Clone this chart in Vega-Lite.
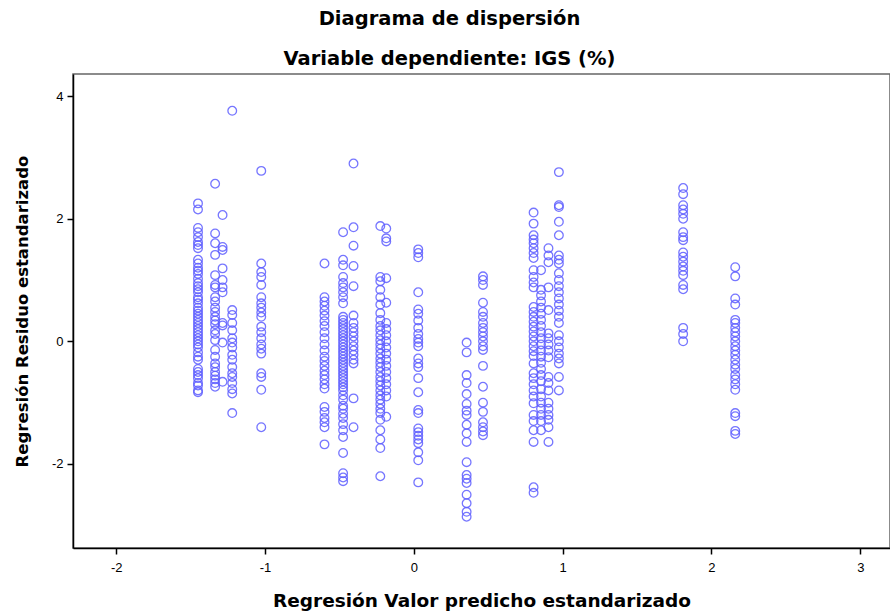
{
  "$schema": "https://vega.github.io/schema/vega-lite/v6.json",
  "width": 817,
  "height": 474,
  "autosize": {"type": "none"},
  "padding": {"left": 73, "top": 74, "right": 0, "bottom": 63},
  "background": "white",
  "title": {
    "text": ["Diagrama de dispersión", "Variable dependiente: IGS (%)"],
    "font": "DejaVu Sans",
    "fontSize": 19.5,
    "fontWeight": "bold",
    "color": "#000000",
    "lineHeight": 40,
    "anchor": "middle",
    "dx": -32,
    "offset": 5
  },
  "config": {
    "view": {"stroke": "#666666", "strokeWidth": 1.5},
    "axis": {
      "grid": false,
      "domainColor": "#000000",
      "domainWidth": 1.5,
      "tickColor": "#000000",
      "tickWidth": 1.5,
      "tickSize": 6,
      "labelFont": "Liberation Sans",
      "labelFontSize": 13,
      "labelColor": "#000000",
      "labelExpr": "'' + datum.value",
      "titleFont": "DejaVu Sans",
      "titleFontWeight": "bold",
      "titleColor": "#000000"
    }
  },
  "data": {
    "values": [
      {"pred": -1.45, "resid": 2.25}, {"pred": -1.45, "resid": 2.15}, {"pred": -1.45, "resid": 1.85}, {"pred": -1.45, "resid": 1.78},
      {"pred": -1.45, "resid": 1.7}, {"pred": -1.45, "resid": 1.62}, {"pred": -1.45, "resid": 1.57}, {"pred": -1.45, "resid": 1.52},
      {"pred": -1.45, "resid": 1.33}, {"pred": -1.45, "resid": 1.27}, {"pred": -1.45, "resid": 1.2}, {"pred": -1.45, "resid": 1.15},
      {"pred": -1.45, "resid": 1.1}, {"pred": -1.45, "resid": 1.02}, {"pred": -1.45, "resid": 0.95}, {"pred": -1.45, "resid": 0.9},
      {"pred": -1.45, "resid": 0.85}, {"pred": -1.45, "resid": 0.8}, {"pred": -1.45, "resid": 0.72}, {"pred": -1.45, "resid": 0.68},
      {"pred": -1.45, "resid": 0.62}, {"pred": -1.45, "resid": 0.55}, {"pred": -1.45, "resid": 0.5}, {"pred": -1.45, "resid": 0.45},
      {"pred": -1.45, "resid": 0.4}, {"pred": -1.45, "resid": 0.35}, {"pred": -1.45, "resid": 0.3}, {"pred": -1.45, "resid": 0.25},
      {"pred": -1.45, "resid": 0.2}, {"pred": -1.45, "resid": 0.15}, {"pred": -1.45, "resid": 0.1}, {"pred": -1.45, "resid": 0.05},
      {"pred": -1.45, "resid": 0.0}, {"pred": -1.45, "resid": -0.05}, {"pred": -1.45, "resid": -0.1}, {"pred": -1.45, "resid": -0.18},
      {"pred": -1.45, "resid": -0.25}, {"pred": -1.45, "resid": -0.3}, {"pred": -1.45, "resid": -0.45}, {"pred": -1.45, "resid": -0.5},
      {"pred": -1.45, "resid": -0.55}, {"pred": -1.45, "resid": -0.6}, {"pred": -1.45, "resid": -0.68}, {"pred": -1.45, "resid": -0.72},
      {"pred": -1.45, "resid": -0.8}, {"pred": -1.45, "resid": -0.83},

      {"pred": -1.335, "resid": 2.57}, {"pred": -1.335, "resid": 1.76}, {"pred": -1.335, "resid": 1.6}, {"pred": -1.335, "resid": 1.41},
      {"pred": -1.335, "resid": 1.08}, {"pred": -1.335, "resid": 0.92}, {"pred": -1.335, "resid": 0.88}, {"pred": -1.335, "resid": 0.72},
      {"pred": -1.335, "resid": 0.65}, {"pred": -1.335, "resid": 0.55}, {"pred": -1.335, "resid": 0.48}, {"pred": -1.335, "resid": 0.4},
      {"pred": -1.335, "resid": 0.34}, {"pred": -1.335, "resid": 0.28}, {"pred": -1.335, "resid": 0.18}, {"pred": -1.335, "resid": 0.12},
      {"pred": -1.335, "resid": 0.02}, {"pred": -1.335, "resid": -0.14}, {"pred": -1.335, "resid": -0.25}, {"pred": -1.335, "resid": -0.36},
      {"pred": -1.335, "resid": -0.42}, {"pred": -1.335, "resid": -0.5}, {"pred": -1.335, "resid": -0.56}, {"pred": -1.335, "resid": -0.62},
      {"pred": -1.335, "resid": -0.68}, {"pred": -1.335, "resid": -0.74},

      {"pred": -1.285, "resid": 2.06}, {"pred": -1.285, "resid": 1.54}, {"pred": -1.285, "resid": 1.49}, {"pred": -1.285, "resid": 1.19},
      {"pred": -1.285, "resid": 1.0}, {"pred": -1.285, "resid": 0.88}, {"pred": -1.285, "resid": 0.8}, {"pred": -1.285, "resid": 0.3},
      {"pred": -1.285, "resid": 0.26}, {"pred": -1.285, "resid": -0.02}, {"pred": -1.285, "resid": -0.66},

      {"pred": -1.22, "resid": 3.76}, {"pred": -1.22, "resid": 0.51}, {"pred": -1.22, "resid": 0.43}, {"pred": -1.22, "resid": 0.3},
      {"pred": -1.22, "resid": 0.18}, {"pred": -1.22, "resid": 0.05}, {"pred": -1.22, "resid": -0.02}, {"pred": -1.22, "resid": -0.1},
      {"pred": -1.22, "resid": -0.22}, {"pred": -1.22, "resid": -0.3}, {"pred": -1.22, "resid": -0.42}, {"pred": -1.22, "resid": -0.52},
      {"pred": -1.22, "resid": -0.58}, {"pred": -1.22, "resid": -0.68}, {"pred": -1.22, "resid": -0.78}, {"pred": -1.22, "resid": -0.85},
      {"pred": -1.22, "resid": -1.17},

      {"pred": -1.025, "resid": 2.78}, {"pred": -1.025, "resid": 1.27}, {"pred": -1.025, "resid": 1.13}, {"pred": -1.025, "resid": 1.05},
      {"pred": -1.025, "resid": 0.92}, {"pred": -1.025, "resid": 0.72}, {"pred": -1.025, "resid": 0.62}, {"pred": -1.025, "resid": 0.55},
      {"pred": -1.025, "resid": 0.47}, {"pred": -1.025, "resid": 0.4}, {"pred": -1.025, "resid": 0.24}, {"pred": -1.025, "resid": 0.15},
      {"pred": -1.025, "resid": 0.05}, {"pred": -1.025, "resid": -0.05}, {"pred": -1.025, "resid": -0.12}, {"pred": -1.025, "resid": -0.2},
      {"pred": -1.025, "resid": -0.52}, {"pred": -1.025, "resid": -0.58}, {"pred": -1.025, "resid": -0.79}, {"pred": -1.025, "resid": -1.4},

      {"pred": -0.6, "resid": 1.27}, {"pred": -0.6, "resid": 0.72}, {"pred": -0.6, "resid": 0.65}, {"pred": -0.6, "resid": 0.58},
      {"pred": -0.6, "resid": 0.5}, {"pred": -0.6, "resid": 0.42}, {"pred": -0.6, "resid": 0.33}, {"pred": -0.6, "resid": 0.25},
      {"pred": -0.6, "resid": 0.15}, {"pred": -0.6, "resid": 0.05}, {"pred": -0.6, "resid": -0.05}, {"pred": -0.6, "resid": -0.15},
      {"pred": -0.6, "resid": -0.25}, {"pred": -0.6, "resid": -0.32}, {"pred": -0.6, "resid": -0.4}, {"pred": -0.6, "resid": -0.48},
      {"pred": -0.6, "resid": -0.55}, {"pred": -0.6, "resid": -0.62}, {"pred": -0.6, "resid": -0.7}, {"pred": -0.6, "resid": -0.77},
      {"pred": -0.6, "resid": -1.07}, {"pred": -0.6, "resid": -1.15}, {"pred": -0.6, "resid": -1.25}, {"pred": -0.6, "resid": -1.32},
      {"pred": -0.6, "resid": -1.4}, {"pred": -0.6, "resid": -1.68},

      {"pred": -0.475, "resid": 1.78}, {"pred": -0.475, "resid": 1.33}, {"pred": -0.475, "resid": 1.24}, {"pred": -0.475, "resid": 1.05},
      {"pred": -0.475, "resid": 0.95}, {"pred": -0.475, "resid": 0.88}, {"pred": -0.475, "resid": 0.8}, {"pred": -0.475, "resid": 0.72},
      {"pred": -0.475, "resid": 0.62}, {"pred": -0.475, "resid": 0.4}, {"pred": -0.475, "resid": 0.35}, {"pred": -0.475, "resid": 0.3},
      {"pred": -0.475, "resid": 0.25}, {"pred": -0.475, "resid": 0.2}, {"pred": -0.475, "resid": 0.15}, {"pred": -0.475, "resid": 0.1},
      {"pred": -0.475, "resid": 0.05}, {"pred": -0.475, "resid": 0.0}, {"pred": -0.475, "resid": -0.05}, {"pred": -0.475, "resid": -0.1},
      {"pred": -0.475, "resid": -0.15}, {"pred": -0.475, "resid": -0.2}, {"pred": -0.475, "resid": -0.25}, {"pred": -0.475, "resid": -0.3},
      {"pred": -0.475, "resid": -0.35}, {"pred": -0.475, "resid": -0.4}, {"pred": -0.475, "resid": -0.45}, {"pred": -0.475, "resid": -0.5},
      {"pred": -0.475, "resid": -0.55}, {"pred": -0.475, "resid": -0.6}, {"pred": -0.475, "resid": -0.65}, {"pred": -0.475, "resid": -0.7},
      {"pred": -0.475, "resid": -0.75}, {"pred": -0.475, "resid": -0.8}, {"pred": -0.475, "resid": -0.88}, {"pred": -0.475, "resid": -0.95},
      {"pred": -0.475, "resid": -1.05}, {"pred": -0.475, "resid": -1.1}, {"pred": -0.475, "resid": -1.18}, {"pred": -0.475, "resid": -1.25},
      {"pred": -0.475, "resid": -1.35}, {"pred": -0.475, "resid": -1.45}, {"pred": -0.475, "resid": -1.56}, {"pred": -0.475, "resid": -1.82},
      {"pred": -0.475, "resid": -2.15}, {"pred": -0.475, "resid": -2.22}, {"pred": -0.475, "resid": -2.28},

      {"pred": -0.405, "resid": 2.9}, {"pred": -0.405, "resid": 1.86}, {"pred": -0.405, "resid": 1.56}, {"pred": -0.405, "resid": 1.23},
      {"pred": -0.405, "resid": 0.9}, {"pred": -0.405, "resid": 0.42}, {"pred": -0.405, "resid": 0.3}, {"pred": -0.405, "resid": 0.22},
      {"pred": -0.405, "resid": 0.15}, {"pred": -0.405, "resid": 0.08}, {"pred": -0.405, "resid": 0.0}, {"pred": -0.405, "resid": -0.08},
      {"pred": -0.405, "resid": -0.15}, {"pred": -0.405, "resid": -0.22}, {"pred": -0.405, "resid": -0.3}, {"pred": -0.405, "resid": -0.36},
      {"pred": -0.405, "resid": -0.93}, {"pred": -0.405, "resid": -1.4},

      {"pred": -0.225, "resid": 1.88}, {"pred": -0.225, "resid": 1.05}, {"pred": -0.225, "resid": 0.98}, {"pred": -0.225, "resid": 0.84},
      {"pred": -0.225, "resid": 0.72}, {"pred": -0.225, "resid": 0.6}, {"pred": -0.225, "resid": 0.46}, {"pred": -0.225, "resid": 0.35},
      {"pred": -0.225, "resid": 0.25}, {"pred": -0.225, "resid": 0.18}, {"pred": -0.225, "resid": 0.1}, {"pred": -0.225, "resid": 0.02},
      {"pred": -0.225, "resid": -0.05}, {"pred": -0.225, "resid": -0.12}, {"pred": -0.225, "resid": -0.2}, {"pred": -0.225, "resid": -0.28},
      {"pred": -0.225, "resid": -0.35}, {"pred": -0.225, "resid": -0.42}, {"pred": -0.225, "resid": -0.5}, {"pred": -0.225, "resid": -0.58},
      {"pred": -0.225, "resid": -0.65}, {"pred": -0.225, "resid": -0.72}, {"pred": -0.225, "resid": -0.8}, {"pred": -0.225, "resid": -0.88},
      {"pred": -0.225, "resid": -0.95}, {"pred": -0.225, "resid": -1.02}, {"pred": -0.225, "resid": -1.1}, {"pred": -0.225, "resid": -1.17},
      {"pred": -0.225, "resid": -1.28}, {"pred": -0.225, "resid": -1.45}, {"pred": -0.225, "resid": -1.6}, {"pred": -0.225, "resid": -1.74},
      {"pred": -0.225, "resid": -2.2},

      {"pred": -0.185, "resid": 1.84}, {"pred": -0.185, "resid": 1.68}, {"pred": -0.185, "resid": 1.63}, {"pred": -0.185, "resid": 1.03},
      {"pred": -0.185, "resid": 0.63}, {"pred": -0.185, "resid": 0.3}, {"pred": -0.185, "resid": 0.2}, {"pred": -0.185, "resid": 0.1},
      {"pred": -0.185, "resid": 0.0}, {"pred": -0.185, "resid": -0.1}, {"pred": -0.185, "resid": -0.2}, {"pred": -0.185, "resid": -0.3},
      {"pred": -0.185, "resid": -0.4}, {"pred": -0.185, "resid": -0.5}, {"pred": -0.185, "resid": -0.6}, {"pred": -0.185, "resid": -0.7},
      {"pred": -0.185, "resid": -0.8}, {"pred": -0.185, "resid": -0.9}, {"pred": -0.185, "resid": -1.23},

      {"pred": 0.03, "resid": 1.5}, {"pred": 0.03, "resid": 1.44}, {"pred": 0.03, "resid": 1.37}, {"pred": 0.03, "resid": 0.8},
      {"pred": 0.03, "resid": 0.52}, {"pred": 0.03, "resid": 0.45}, {"pred": 0.03, "resid": 0.34}, {"pred": 0.03, "resid": 0.22},
      {"pred": 0.03, "resid": 0.12}, {"pred": 0.03, "resid": 0.04}, {"pred": 0.03, "resid": -0.02}, {"pred": 0.03, "resid": -0.08},
      {"pred": 0.03, "resid": -0.28}, {"pred": 0.03, "resid": -0.36}, {"pred": 0.03, "resid": -0.42}, {"pred": 0.03, "resid": -0.6},
      {"pred": 0.03, "resid": -0.83}, {"pred": 0.03, "resid": -1.12}, {"pred": 0.03, "resid": -1.17}, {"pred": 0.03, "resid": -1.42},
      {"pred": 0.03, "resid": -1.48}, {"pred": 0.03, "resid": -1.54}, {"pred": 0.03, "resid": -1.6}, {"pred": 0.03, "resid": -1.66},
      {"pred": 0.03, "resid": -1.81}, {"pred": 0.03, "resid": -1.94}, {"pred": 0.03, "resid": -2.3},

      {"pred": 0.355, "resid": -0.02}, {"pred": 0.355, "resid": -0.18}, {"pred": 0.355, "resid": -0.55}, {"pred": 0.355, "resid": -0.68},
      {"pred": 0.355, "resid": -0.86}, {"pred": 0.355, "resid": -1.02}, {"pred": 0.355, "resid": -1.13}, {"pred": 0.355, "resid": -1.2},
      {"pred": 0.355, "resid": -1.36}, {"pred": 0.355, "resid": -1.5}, {"pred": 0.355, "resid": -1.64}, {"pred": 0.355, "resid": -1.97},
      {"pred": 0.355, "resid": -2.18}, {"pred": 0.355, "resid": -2.24}, {"pred": 0.355, "resid": -2.31}, {"pred": 0.355, "resid": -2.5},
      {"pred": 0.355, "resid": -2.64}, {"pred": 0.355, "resid": -2.78}, {"pred": 0.355, "resid": -2.86},

      {"pred": 0.465, "resid": 1.06}, {"pred": 0.465, "resid": 1.0}, {"pred": 0.465, "resid": 0.92}, {"pred": 0.465, "resid": 0.63},
      {"pred": 0.465, "resid": 0.48}, {"pred": 0.465, "resid": 0.4}, {"pred": 0.465, "resid": 0.3}, {"pred": 0.465, "resid": 0.22},
      {"pred": 0.465, "resid": 0.15}, {"pred": 0.465, "resid": 0.08}, {"pred": 0.465, "resid": 0.0}, {"pred": 0.465, "resid": -0.08},
      {"pred": 0.465, "resid": -0.14}, {"pred": 0.465, "resid": -0.4}, {"pred": 0.465, "resid": -0.74}, {"pred": 0.465, "resid": -1.0},
      {"pred": 0.465, "resid": -1.15}, {"pred": 0.465, "resid": -1.32}, {"pred": 0.465, "resid": -1.4}, {"pred": 0.465, "resid": -1.47},
      {"pred": 0.465, "resid": -1.53},

      {"pred": 0.805, "resid": 2.1}, {"pred": 0.805, "resid": 1.92}, {"pred": 0.805, "resid": 1.73}, {"pred": 0.805, "resid": 1.66},
      {"pred": 0.805, "resid": 1.6}, {"pred": 0.805, "resid": 1.52}, {"pred": 0.805, "resid": 1.44}, {"pred": 0.805, "resid": 1.36},
      {"pred": 0.805, "resid": 1.16}, {"pred": 0.805, "resid": 1.05}, {"pred": 0.805, "resid": 0.96}, {"pred": 0.805, "resid": 0.88},
      {"pred": 0.805, "resid": 0.56}, {"pred": 0.805, "resid": 0.48}, {"pred": 0.805, "resid": 0.4}, {"pred": 0.805, "resid": 0.32},
      {"pred": 0.805, "resid": 0.24}, {"pred": 0.805, "resid": 0.16}, {"pred": 0.805, "resid": 0.08}, {"pred": 0.805, "resid": 0.0},
      {"pred": 0.805, "resid": -0.08}, {"pred": 0.805, "resid": -0.16}, {"pred": 0.805, "resid": -0.24}, {"pred": 0.805, "resid": -0.36},
      {"pred": 0.805, "resid": -0.52}, {"pred": 0.805, "resid": -0.6}, {"pred": 0.805, "resid": -0.7}, {"pred": 0.805, "resid": -0.8},
      {"pred": 0.805, "resid": -0.9}, {"pred": 0.805, "resid": -1.01}, {"pred": 0.805, "resid": -1.2}, {"pred": 0.805, "resid": -1.3},
      {"pred": 0.805, "resid": -1.45}, {"pred": 0.805, "resid": -1.64}, {"pred": 0.805, "resid": -2.38}, {"pred": 0.805, "resid": -2.47},

      {"pred": 0.855, "resid": 1.16}, {"pred": 0.855, "resid": 0.84}, {"pred": 0.855, "resid": 0.75}, {"pred": 0.855, "resid": 0.65},
      {"pred": 0.855, "resid": 0.55}, {"pred": 0.855, "resid": 0.45}, {"pred": 0.855, "resid": 0.35}, {"pred": 0.855, "resid": 0.25},
      {"pred": 0.855, "resid": 0.15}, {"pred": 0.855, "resid": 0.05}, {"pred": 0.855, "resid": -0.05}, {"pred": 0.855, "resid": -0.15},
      {"pred": 0.855, "resid": -0.25}, {"pred": 0.855, "resid": -0.35}, {"pred": 0.855, "resid": -0.45}, {"pred": 0.855, "resid": -0.55},
      {"pred": 0.855, "resid": -0.65}, {"pred": 0.855, "resid": -0.78}, {"pred": 0.855, "resid": -0.9}, {"pred": 0.855, "resid": -1.0},
      {"pred": 0.855, "resid": -1.1}, {"pred": 0.855, "resid": -1.2}, {"pred": 0.855, "resid": -1.3}, {"pred": 0.855, "resid": -1.45},

      {"pred": 0.905, "resid": 1.52}, {"pred": 0.905, "resid": 1.4}, {"pred": 0.905, "resid": 1.29}, {"pred": 0.905, "resid": 0.88},
      {"pred": 0.905, "resid": 0.51}, {"pred": 0.905, "resid": 0.13}, {"pred": 0.905, "resid": 0.05}, {"pred": 0.905, "resid": -0.05},
      {"pred": 0.905, "resid": -0.15}, {"pred": 0.905, "resid": -0.26}, {"pred": 0.905, "resid": -0.58}, {"pred": 0.905, "resid": -0.68},
      {"pred": 0.905, "resid": -0.8}, {"pred": 0.905, "resid": -1.0}, {"pred": 0.905, "resid": -1.1}, {"pred": 0.905, "resid": -1.2},
      {"pred": 0.905, "resid": -1.28}, {"pred": 0.905, "resid": -1.4}, {"pred": 0.905, "resid": -1.64},

      {"pred": 0.975, "resid": 2.76}, {"pred": 0.975, "resid": 2.22}, {"pred": 0.975, "resid": 2.19}, {"pred": 0.975, "resid": 1.95},
      {"pred": 0.975, "resid": 1.73}, {"pred": 0.975, "resid": 1.4}, {"pred": 0.975, "resid": 1.33}, {"pred": 0.975, "resid": 1.27},
      {"pred": 0.975, "resid": 1.11}, {"pred": 0.975, "resid": 1.0}, {"pred": 0.975, "resid": 0.9}, {"pred": 0.975, "resid": 0.8},
      {"pred": 0.975, "resid": 0.7}, {"pred": 0.975, "resid": 0.6}, {"pred": 0.975, "resid": 0.5}, {"pred": 0.975, "resid": 0.4},
      {"pred": 0.975, "resid": 0.3}, {"pred": 0.975, "resid": 0.1}, {"pred": 0.975, "resid": 0.0}, {"pred": 0.975, "resid": -0.1},
      {"pred": 0.975, "resid": -0.2}, {"pred": 0.975, "resid": -0.28}, {"pred": 0.975, "resid": -0.36}, {"pred": 0.975, "resid": -0.58},
      {"pred": 0.975, "resid": -0.8},

      {"pred": 1.81, "resid": 2.5}, {"pred": 1.81, "resid": 2.4}, {"pred": 1.81, "resid": 2.22}, {"pred": 1.81, "resid": 2.15},
      {"pred": 1.81, "resid": 2.08}, {"pred": 1.81, "resid": 2.0}, {"pred": 1.81, "resid": 1.78}, {"pred": 1.81, "resid": 1.7},
      {"pred": 1.81, "resid": 1.65}, {"pred": 1.81, "resid": 1.45}, {"pred": 1.81, "resid": 1.38}, {"pred": 1.81, "resid": 1.3},
      {"pred": 1.81, "resid": 1.22}, {"pred": 1.81, "resid": 1.15}, {"pred": 1.81, "resid": 1.08}, {"pred": 1.81, "resid": 0.92},
      {"pred": 1.81, "resid": 0.85}, {"pred": 1.81, "resid": 0.22}, {"pred": 1.81, "resid": 0.12}, {"pred": 1.81, "resid": 0.0},

      {"pred": 2.16, "resid": 1.21}, {"pred": 2.16, "resid": 1.06}, {"pred": 2.16, "resid": 0.7}, {"pred": 2.16, "resid": 0.6},
      {"pred": 2.16, "resid": 0.35}, {"pred": 2.16, "resid": 0.3}, {"pred": 2.16, "resid": 0.22}, {"pred": 2.16, "resid": 0.15},
      {"pred": 2.16, "resid": 0.08}, {"pred": 2.16, "resid": 0.0}, {"pred": 2.16, "resid": -0.08}, {"pred": 2.16, "resid": -0.15},
      {"pred": 2.16, "resid": -0.22}, {"pred": 2.16, "resid": -0.3}, {"pred": 2.16, "resid": -0.38}, {"pred": 2.16, "resid": -0.45},
      {"pred": 2.16, "resid": -0.55}, {"pred": 2.16, "resid": -0.62}, {"pred": 2.16, "resid": -0.7}, {"pred": 2.16, "resid": -0.79},
      {"pred": 2.16, "resid": -1.17}, {"pred": 2.16, "resid": -1.22}, {"pred": 2.16, "resid": -1.46}, {"pred": 2.16, "resid": -1.51}
    ]
  },
  "mark": {
    "type": "point",
    "shape": "circle",
    "filled": false,
    "size": 75,
    "strokeWidth": 1.3,
    "color": "#5f5fff",
    "opacity": 0.85,
    "clip": true
  },
  "encoding": {
    "x": {
      "field": "pred",
      "type": "quantitative",
      "scale": {"domain": [-2.29, 3.2], "nice": false, "zero": false},
      "axis": {
        "title": "Regresión Valor predicho estandarizado",
        "titleFontSize": 18.5,
        "values": [-2, -1, 0, 1, 2, 3],
        "labelPadding": 7,
        "titlePadding": 17
      }
    },
    "y": {
      "field": "resid",
      "type": "quantitative",
      "scale": {"domain": [-3.37, 4.36], "nice": false, "zero": false},
      "axis": {
        "title": "Regresión Residuo estandarizado",
        "titleFontSize": 16.5,
        "values": [-2, 0, 2, 4],
        "labelPadding": 4,
        "titlePadding": 21
      }
    }
  }
}
